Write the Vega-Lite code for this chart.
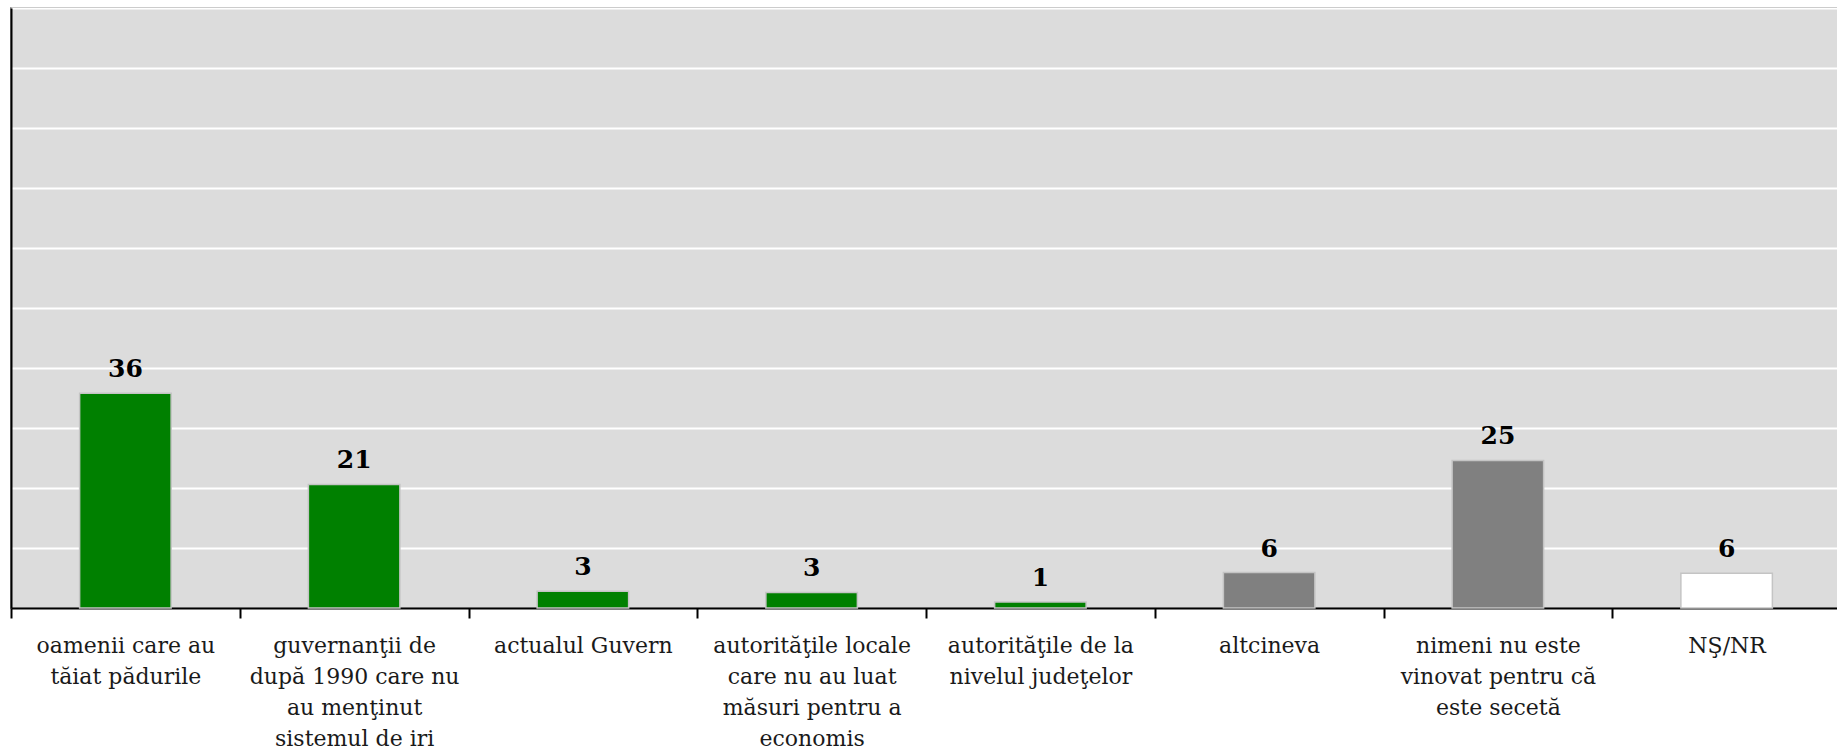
{
  "$schema": "https://vega.github.io/schema/vega-lite/v6.json",
  "width": 1830,
  "height": 600,
  "autosize": {"type": "none"},
  "padding": {"left": 11, "top": 8, "right": 0, "bottom": 143},
  "background": "white",
  "config": {
    "view": {"fill": "#dcdcdc", "stroke": "#999999", "strokeWidth": 2}
  },
  "data": {
    "values": [
      {"categorie": "oamenii care au|tăiat pădurile", "procent": 35.8, "grup": "vinovati"},
      {"categorie": "guvernanţii de|după 1990 care nu|au menţinut|sistemul de iri", "procent": 20.6, "grup": "vinovati"},
      {"categorie": "actualul Guvern", "procent": 2.8, "grup": "vinovati"},
      {"categorie": "autorităţile locale|care nu au luat|măsuri pentru a|economis", "procent": 2.6, "grup": "vinovati"},
      {"categorie": "autorităţile de la|nivelul judeţelor", "procent": 1.0, "grup": "vinovati"},
      {"categorie": "altcineva", "procent": 5.9, "grup": "altii"},
      {"categorie": "nimeni nu este|vinovat pentru că|este secetă", "procent": 24.6, "grup": "altii"},
      {"categorie": "NŞ/NR", "procent": 5.8, "grup": "nsnr"}
    ]
  },
  "encoding": {
    "x": {
      "field": "categorie",
      "type": "nominal",
      "sort": null,
      "scale": {"paddingInner": 0, "paddingOuter": 0},
      "axis": {
        "title": null,
        "labelAngle": 0,
        "tickBand": "extent",
        "tickSize": 10,
        "tickColor": "#000000",
        "tickWidth": 2,
        "domainColor": "#000000",
        "domainWidth": 2,
        "grid": false,
        "labelExpr": "split(datum.label, '|')",
        "labelFont": "DejaVu Serif",
        "labelFontSize": 22,
        "labelLineHeight": 31,
        "labelColor": "#1a1a1a",
        "labelPadding": 17,
        "labelBaseline": "top",
        "labelLimit": 400
      }
    },
    "y": {
      "field": "procent",
      "type": "quantitative",
      "scale": {"domain": [0, 100], "nice": false},
      "axis": {
        "title": null,
        "labels": false,
        "ticks": false,
        "values": [0, 10, 20, 30, 40, 50, 60, 70, 80, 90, 100],
        "grid": true,
        "gridColor": "#ffffff",
        "gridWidth": 2,
        "domainColor": "#000000",
        "domainWidth": 2
      }
    }
  },
  "layer": [
    {
      "mark": {"type": "bar", "width": {"band": 0.4}, "stroke": "#c4c4c4", "strokeWidth": 1.5},
      "encoding": {
        "color": {
          "field": "grup",
          "type": "nominal",
          "scale": {"domain": ["vinovati", "altii", "nsnr"], "range": ["#008000", "#808080", "#ffffff"]},
          "legend": null
        }
      }
    },
    {
      "mark": {"type": "text", "font": "DejaVu Serif", "fontWeight": "bold", "fontSize": 25, "baseline": "middle", "dy": -24, "color": "#000000"},
      "encoding": {
        "text": {"field": "procent", "type": "quantitative", "format": ".0f"}
      }
    }
  ]
}
